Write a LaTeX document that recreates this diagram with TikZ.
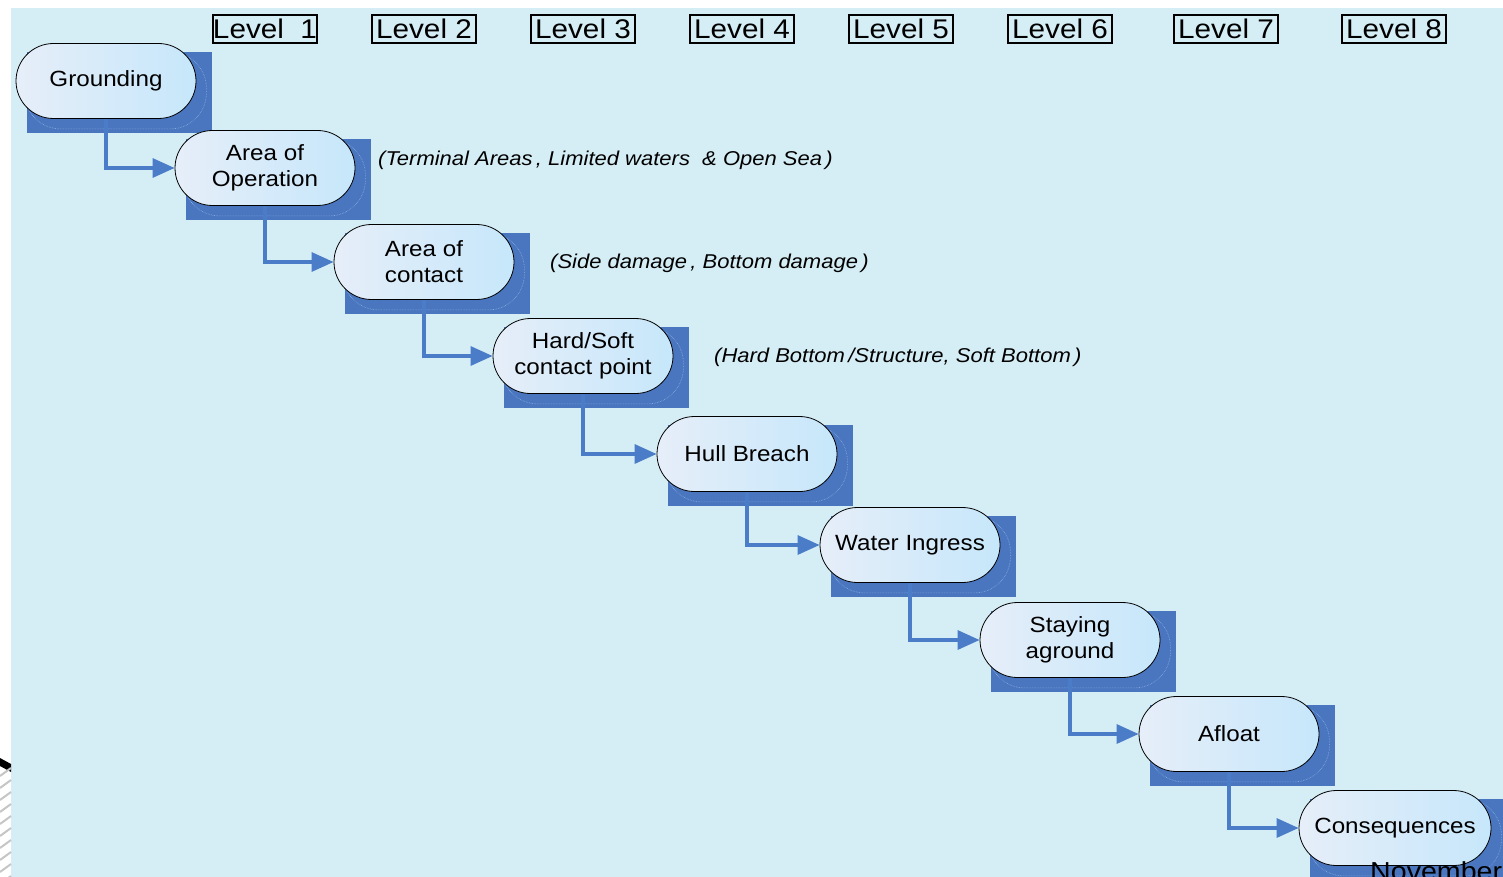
\documentclass[tikz,border=0pt]{standalone}
\usepackage{fontspec}
\setmainfont[FakeStretch=1.1]{Liberation Sans}
\usetikzlibrary{shapes.misc,arrows.meta,backgrounds}
\definecolor{pagebg}{HTML}{D5EDF5}
\definecolor{shadowblue}{HTML}{4A76C0}
\definecolor{rimblue}{HTML}{8FB2E0}
\definecolor{linkblue}{HTML}{4A7CC8}
\definecolor{pillL}{HTML}{E6EEF9}
\definecolor{pillR}{HTML}{C6E7FA}
\tikzset{
  stage/.style={rounded rectangle, draw=black, line width=0.8pt,
    left color=pillL, right color=pillR,
    minimum width=184pt, minimum height=75pt, inner sep=2pt,
    align=center, font=\fontsize{22}{26}\selectfont},
  levelbox/.style={draw=black, line width=1.4pt, minimum width=104pt,
    minimum height=28pt, inner sep=0pt, font=\fontsize{27}{27}\selectfont},
  note/.style={anchor=west, inner sep=0pt, font=\fontsize{20}{20}\selectfont\itshape},
  link/.style={draw=linkblue, line width=3.2pt,
    -{Triangle[length=22pt,width=19pt]}},
}
% blue block behind a stage, plus its faint inner rim
\newcommand\stageshadow[1]{%
  \path (#1.west |- #1.north) coordinate (tl) (#1.east |- #1.south) coordinate (br);
  \fill[shadowblue] ([xshift=11pt,yshift=-9pt]tl)
    rectangle ([xshift=16pt,yshift=-14pt]br);
  \draw[rimblue, line width=0.6pt, densely dotted, rounded corners=36pt]
    ([xshift=9pt,yshift=-9pt]tl) rectangle ([xshift=10pt,yshift=-10pt]br);
}
\begin{document}
\begin{tikzpicture}[x=1pt,y=-1pt]
\useasboundingbox (0,0) rectangle (1503,877);
\clip (0,0) rectangle (1503,877);

% level headers
\node[levelbox] (l1) at (265,29) {Level\ \ 1};
\node[levelbox] (l2) at (424,29) {Level 2};
\node[levelbox] (l3) at (583,29) {Level 3};
\node[levelbox] (l4) at (742,29) {Level 4};
\node[levelbox] (l5) at (901,29) {Level 5};
\node[levelbox] (l6) at (1060,29) {Level 6};
\node[levelbox] (l7) at (1226,29) {Level 7};
\node[levelbox] (l8) at (1394,29) {Level 8};

% stages
\node[stage] (s1) at (106,81) {Grounding};
\node[stage] (s2) at (265,168) {Area of\\Operation};
\node[stage] (s3) at (424,262) {Area of\\contact};
\node[stage] (s4) at (583,356) {Hard/Soft\\contact point};
\node[stage] (s5) at (747,454) {Hull Breach};
\node[stage] (s6) at (910,545) {Water Ingress};
\node[stage] (s7) at (1070,640) {Staying\\aground};
\node[stage] (s8) at (1229,734) {Afloat};
\node[stage, minimum width=196pt] (s9) at (1395,828) {Consequences};

\begin{scope}[on background layer]
  \fill[white] (0,0) rectangle (1503,877);
  \fill[pagebg] (11,8) rectangle (1503,877);
  % corner of a neighbouring sheet at the lower left
  \fill[black] (0,758) -- (11,764) -- (11,772) -- (0,766) -- cycle;
  \foreach \k in {0,...,9}{
    \draw[gray!45, line width=2pt] (0,{776+\k*12}) -- (11,{768+\k*12});
  }
  \foreach \n in {s1,s2,s3,s4,s5,s6,s7,s8,s9}{\stageshadow{\n}}
\end{scope}

% connectors
\foreach \a/\b in {s1/s2,s2/s3,s3/s4,s4/s5,s5/s6,s6/s7,s7/s8,s8/s9}{
  \draw[link] (\a.south) |- (\b.west);
}

% notes
\node[note] (n2) at (378,160) {(Terminal Areas\,, Limited waters\ \ \& Open Sea\,)};
\node[note] (n3) at (550,263) {(Side damage\,, Bottom damage\,)};
\node[note] (n4) at (714,357) {(Hard Bottom\,/Structure, Soft Bottom\,)};

\node[anchor=base west, inner sep=0pt, font=\fontsize{26}{26}\selectfont] (nov) at (1370,880) {November};
\end{tikzpicture}
\end{document}
